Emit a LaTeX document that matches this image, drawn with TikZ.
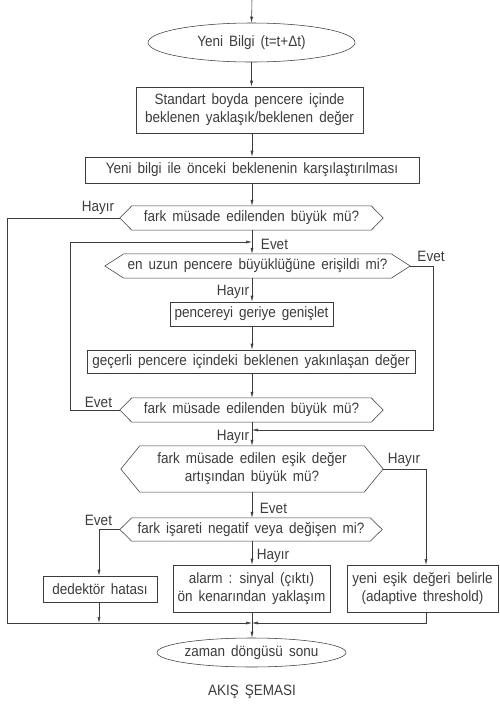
\documentclass[tikz,border=0pt]{standalone}
\usepackage{fontspec}
\setmainfont{Liberation Sans}[FakeStretch=0.9, WordSpace=1.6]
\usetikzlibrary{arrows.meta,shapes.geometric}
\definecolor{ink}{RGB}{60, 60, 60}
\definecolor{paper}{RGB}{255, 255, 255}

% hexagonal decision frame around a named node
\newcommand{\hexframe}[2]{%
  \draw[line] (#1.west) -- ([xshift=#2]#1.north west) -- ([xshift=-#2]#1.north east)
              -- (#1.east) -- ([xshift=-#2]#1.south east) -- ([xshift=#2]#1.south west) -- cycle;}

\tikzset{
  line/.style     = {draw=ink, line width=0.55pt},
  flow/.style     = {line, -{Latex[length=6pt,width=3pt]}},
  txt/.style      = {text=ink, font=\fontsize{15}{18}\selectfont, align=center},
  procbox/.style  = {txt, line, rectangle, inner sep=0pt},
  termbox/.style  = {txt, line, ellipse, inner sep=0pt},
  decbox/.style   = {txt, rectangle, inner sep=0pt},
  lbl/.style      = {txt, inner sep=0pt},
}

\begin{document}
\begin{tikzpicture}[x=1pt, y=-1pt]
  \useasboundingbox[fill=paper] (0,0) rectangle (499,713);

  \coordinate (top)  at (252,  0);
  \node[termbox, minimum width=207pt, minimum height=39pt] (start) at (251.5, 42.5) {Yeni Bilgi (t=t+Δt)};
  \node[procbox, minimum width=227pt, minimum height=46pt] (box1)  at (249.5,110.0) {Standart boyda pencere içinde\\beklenen yaklaşık/beklenen değer};
  \node[procbox, minimum width=334pt, minimum height=26pt] (box2)  at (252.0,170.0) {Yeni bilgi ile önceki beklenenin karşılaştırılması};
  \node[decbox,  minimum width=263pt, minimum height=24pt] (dec1)  at (251.5,218.0) {fark müsade edilenden büyük mü?};
  \node[decbox,  minimum width=305pt, minimum height=24pt] (dec2)  at (257.5,266.0) {en uzun pencere büyüklüğüne erişildi mi?};
  \node[procbox, minimum width=163pt, minimum height=24pt] (box3)  at (251.5,314.0) {pencereyi geriye genişlet};
  \node[procbox, minimum width=328pt, minimum height=23pt] (box4)  at (251.0,361.5) {geçerli pencere içindeki beklenen yakınlaşan değer};
  \node[decbox,  minimum width=263pt, minimum height=24pt] (dec3)  at (251.5,410.0) {fark müsade edilenden büyük mü?};
  \node[decbox,  minimum width=262pt, minimum height=46pt] (dec4)  at (252.0,469.0) {fark müsade edilen eşik değer\\artışından büyük mü?};
  \node[decbox,  minimum width=262pt, minimum height=23pt] (dec5)  at (251.0,529.5) {fark işareti negatif veya değişen mi?};
  \node[procbox, minimum width=114pt, minimum height=26pt] (box5)  at (100.0,589.0) {dedektör hatası};
  \node[procbox, minimum width=157pt, minimum height=47pt] (box6)  at (251.5,588.5) {alarm : sinyal (çıktı)\\ön kenarından yaklaşım};
  \node[procbox, minimum width=151pt, minimum height=47pt] (box7)  at (422.5,588.5) {yeni eşik değeri belirle\\(adaptive threshold)};
  \node[termbox, minimum width=173pt, minimum height=29pt] (stop)  at (251.5,652.5) {zaman döngüsü sonu};
  \node[lbl] (caption) at (252,692) {AKIŞ ŞEMASI};

  \hexframe{dec1}{12pt}
  \hexframe{dec2}{19pt}
  \hexframe{dec3}{12pt}
  \hexframe{dec4}{19pt}
  \hexframe{dec5}{12pt}

  \coordinate (join1) at (252,242);
  \coordinate (join2) at (252,430);
  \coordinate (join3) at (252,623);

  % main column
  \draw[flow] (top) -- (start.north);
  \draw[flow] (start.south) -- (box1.north -| start.south);
  \draw[flow] (box1.south -| top) -- (box2.north -| top);
  \draw[flow] (box2.south -| top) -- (dec1.north -| top);
  \draw[flow] (dec1.south -| top) -- (dec2.north -| top);
  \draw[flow] (dec2.south -| top) -- (box3.north -| top);
  \draw[flow] (box3.south -| top) -- (box4.north -| top);
  \draw[flow] (box4.south -| top) -- (dec3.north -| top);
  \draw[flow] (dec3.south -| top) -- (dec4.north -| top);
  \draw[flow] (dec4.south -| top) -- (dec5.north -| top);
  \draw[flow] (dec5.south -| top) -- (box6.north -| top);
  \draw[line] (box6.south -| top) -- (join3);
  \draw[flow] (join3) -- (stop.north -| top);

  % loops and branches
  \draw[flow] (dec1.west) -- (7,218) -- (7,623) -- (join3);
  \draw[flow] (dec3.west) -- (70,410) -- (70,242) -- (join1);
  \draw[flow] (dec2.east) -- (433,266) |- (join2);
  \draw[flow] (dec4.east) -- (426,469) -- (426,565);
  \draw[flow] (dec5.west) -- (99,529.5) -- (box5.north -| 99,0);
  \draw[flow] (box5.south -| 99,0) -- (99,623);
  \draw[flow] (box7.south -| 426,0) |- (join3);

  % branch labels
  \node[lbl] (no1)  at ( 98.0,207.5) {Hayır};
  \node[lbl] (yes1) at (274.5,244.0) {Evet};
  \node[lbl] (yes2) at (431.0,256.5) {Evet};
  \node[lbl] (no2)  at (233.0,291.5) {Hayır};
  \node[lbl] (yes3) at ( 98.5,402.5) {Evet};
  \node[lbl] (no3)  at (233.0,436.5) {Hayır};
  \node[lbl] (no4)  at (404.0,460.0) {Hayır};
  \node[lbl] (yes4) at (273.5,508.0) {Evet};
  \node[lbl] (yes5) at ( 98.5,520.0) {Evet};
  \node[lbl] (no5)  at (273.0,556.0) {Hayır};
\end{tikzpicture}
\end{document}
